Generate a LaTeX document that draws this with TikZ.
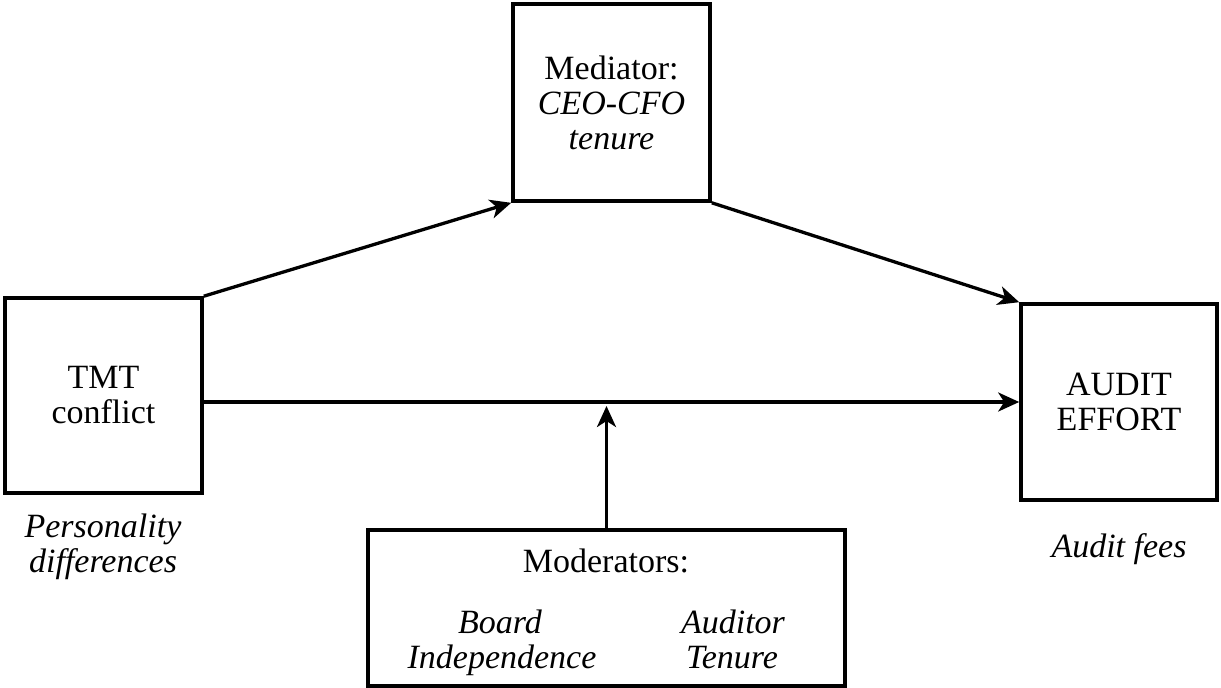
\documentclass[tikz,border=0pt]{standalone}
\usepackage{fontspec}
\setmainfont{Liberation Serif}
\usetikzlibrary{arrows.meta}
\begin{document}
\begin{tikzpicture}[x=1pt,y=-1pt,
  txt/.style={font=\fontsize{34}{35}\selectfont, inner sep=0pt},
  itxt/.style={font=\fontsize{34}{35}\selectfont\itshape, inner sep=0pt, anchor=base},
  boxnode/.style={draw, line width=3.6pt, inner sep=0pt, align=center, font=\fontsize{34}{35}\selectfont},
  conn/.style={line width=3.3pt, -{Stealth[length=21pt,width=19pt,inset=6pt]}}]
\fill[white] (0,0) rectangle (1221,688);
\node[boxnode, minimum width=197pt, minimum height=195pt] (tmt) at (103.5,395.5) {TMT\\conflict};
\node[boxnode, minimum width=197pt, minimum height=197pt] (med) at (611.5,102.5) {Mediator:\\\textit{CEO-CFO}\\\textit{tenure}};
\node[boxnode, minimum width=196pt, minimum height=196pt] (aud) at (1119,402) {AUDIT\\EFFORT};
\node[boxnode, minimum width=477pt, minimum height=156pt] (mod) at (606.5,608) {};
\node[txt, anchor=base] (modt) at (606,572) {Moderators:};
\node[itxt] (board) at (500,633) {Board};
\node[itxt] (indep) at (502,668) {Independence};
\node[itxt] (audtr) at (733,633) {Auditor};
\node[itxt] (ten) at (732,668) {Tenure};
\node[itxt] (pers) at (103,537) {Personality};
\node[itxt] (diff) at (103,572) {differences};
\node[itxt] (fees) at (1119,557) {Audit fees};
\coordinate (mj) at (606.5,406);
\draw[conn] (tmt.north east) -- (med.south west);
\draw[conn] (med.south east) -- (aud.north west);
\draw[conn] (tmt.east |- aud.west) -- (aud.west);
\draw[conn] (mod.north) -- (mj);
\end{tikzpicture}
\end{document}
